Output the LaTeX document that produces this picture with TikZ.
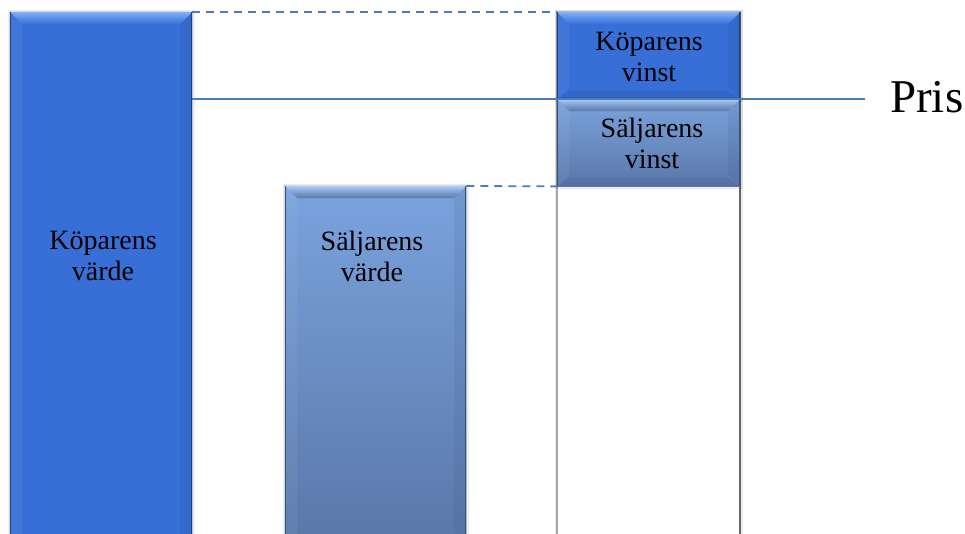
\documentclass[tikz,border=0pt]{standalone}
\usepackage{fontspec}
\setmainfont{Liberation Serif}
\definecolor{kbase}{HTML}{386FD6}
\definecolor{klight}{HTML}{80B0F8}
\definecolor{kdark}{HTML}{1E3F86}
\definecolor{stop}{HTML}{7AA3DE}
\definecolor{slight}{HTML}{A8CCF6}
\definecolor{sbot}{HTML}{5A77A8}
\definecolor{sdark}{HTML}{34507E}
\definecolor{linec}{HTML}{4A7EBB}
\begin{document}
\begin{tikzpicture}[x=1pt,y=-1pt,
  halo/.style={preaction={draw=black,line width=5pt,opacity=0.07},
               preaction={draw=black,line width=2.5pt,opacity=0.08}},
  bev/.style n args={3}{rectangle, inner sep=0pt, draw=none, anchor=north west, halo,
    path picture={
      \coordinate (nw) at (path picture bounding box.north west);
      \coordinate (ne) at (path picture bounding box.north east);
      \coordinate (sw) at (path picture bounding box.south west);
      \coordinate (se) at (path picture bounding box.south east);
      \shade[top color=#2, bottom color=#1, middle color=#1!55!#2]
        (nw) -- (ne) -- ([shift={(-12,12)}]ne) -- ([shift={(12,12)}]nw) -- cycle;
      \fill[white, opacity=0.05]
        (nw) -- ([shift={(12,12)}]nw) -- ([shift={(12,-12)}]sw) -- (sw) -- cycle;
      \fill[#3, opacity=0.12]
        (ne) -- ([shift={(-12,12)}]ne) -- ([shift={(-12,-12)}]se) -- (se) -- cycle;
      \fill[#3, opacity=0.18]
        (sw) -- ([shift={(12,-8)}]sw) -- ([shift={(-12,-8)}]se) -- (se) -- cycle;
      \draw[#3, line width=1.2pt] (nw) -- (sw);
      \draw[#3, line width=2.5pt] (ne) -- (se);
    }},
  lbl/.style={align=center, font=\fontsize{28}{31}\selectfont, inner sep=0pt, text=black},
  pline/.style={draw=linec, line width=1.7pt},
  dline/.style={draw=linec, line width=1.8pt, dash pattern=on 8pt off 6pt}
]
\useasboundingbox (0,0) rectangle (965,534);
\clip (0,0) rectangle (965,534);
\fill[white] (0,0) rectangle (965,534);

% right white column
\node[rectangle, inner sep=0pt, anchor=north west, minimum width=183pt, minimum height=540pt,
  fill=white, halo] (wcol) at (557,12) {};
\draw[black!35, line width=1.5pt] (wcol.north west) -- (wcol.south west);
\draw[black!60, line width=2pt] (wcol.north east) -- (wcol.south east);

% left bar: Köparens värde
\node[bev={kbase}{klight}{kdark}, fill=kbase, minimum width=182pt, minimum height=540pt] (kv) at (10,12) {};
\node[lbl] (kvl) at (103,256) {Köparens\\värde};

% middle bar: Säljarens värde
\node[bev={sbot}{slight}{sdark}, top color=stop, bottom color=sbot, minimum width=181pt, minimum height=360pt] (sv) at (285,186) {};
\node[lbl] (svl) at (372,256) {Säljarens\\värde};

% right boxes
\node[bev={kbase}{klight}{kdark}, fill=kbase, minimum width=183pt, minimum height=87pt] (kvin) at (557,12) {};
\node[lbl] (kvinl) at (649,57) {Köparens\\vinst};
\node[bev={sbot}{slight}{sdark}, top color=stop, bottom color=sbot, minimum width=183pt, minimum height=87pt] (svin) at (557,99) {};
\node[lbl] (svinl) at (652,143) {Säljarens\\vinst};

% price label and lines
\node[anchor=base west, inner xsep=25pt, inner ysep=0pt, font=\fontsize{47}{52}\selectfont] (pris) at (865,113) {Pris};
\coordinate (prisy) at (0,99);
\draw[pline] (kv.east |- prisy) -- (pris.west |- prisy);
\draw[dline] (kv.north east) -- (kvin.north west);
\draw[dline] (sv.north east) -- (svin.south west);
\end{tikzpicture}
\end{document}
